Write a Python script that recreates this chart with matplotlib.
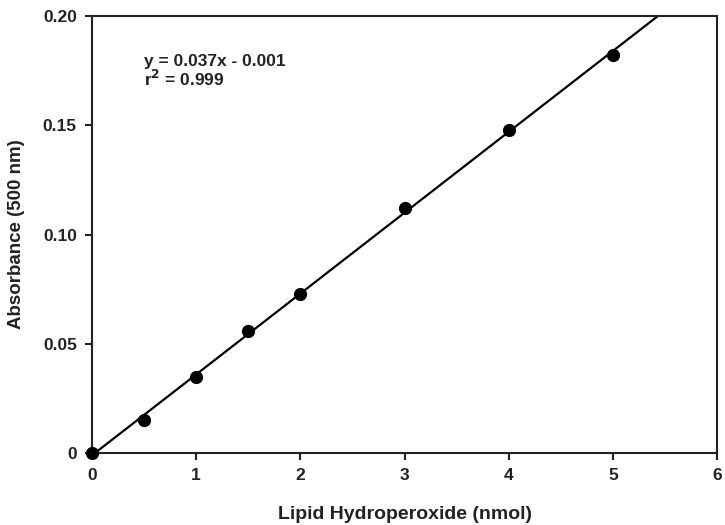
import matplotlib
matplotlib.use("Agg")
import matplotlib.pyplot as plt
import numpy as np

plt.rcParams['font.family'] = ['Liberation Sans', 'DejaVu Sans']
plt.rcParams['font.weight'] = 'bold'

# standard curve data
amount = [0, 0.5, 1, 1.5, 2, 3, 4, 5]
absorbance = [0, 0.015, 0.035, 0.056, 0.073, 0.112, 0.148, 0.182]
slope = 0.037
intercept = -0.001
x_ticks = [0, 1, 2, 3, 4, 5, 6]
x_labels = ['0', '1', '2', '3', '4', '5', '6']
y_ticks = [0, 0.05, 0.10, 0.15, 0.20]
y_labels = ['0', '0.05', '0.10', '0.15', '0.20']

fig = plt.figure(figsize=(7.25, 5.25), dpi=100)
ax = fig.add_axes([0.127, 0.137, 0.862, 0.8325])

xs = np.array([0, 6])
ax.plot(xs, slope * xs + intercept, color='black', lw=1.6)
ax.plot(amount, absorbance, 'o', color='black', ms=8.5, clip_on=False, zorder=3)

ax.set_xlim(0, 6)
ax.set_ylim(0, 0.20)
ax.set_xticks(x_ticks)
ax.set_xticklabels(x_labels)
ax.set_yticks(y_ticks)
ax.set_yticklabels(y_labels)
ax.tick_params(direction='out', length=5, width=1.5, labelsize=12.5, pad=6, colors='#222222')
for s in ax.spines.values():
    s.set_linewidth(1.5)
    s.set_color('#222222')

ax.set_xlabel('Lipid Hydroperoxide (nmol)', fontsize=14, fontweight='bold', labelpad=16, color='#222222')
ax.set_ylabel('Absorbance (500 nm)', fontsize=13.5, fontweight='bold', labelpad=13, color='#222222')

ax.text(0.5, 0.1745, 'y = 0.037x - 0.001\nr$^\\mathbf{2}$ = 0.999', fontsize=12.5, fontweight='bold',
        va='center', ha='left', linespacing=1.0, color='#222222')

fig.savefig('out.png', dpi=100)
